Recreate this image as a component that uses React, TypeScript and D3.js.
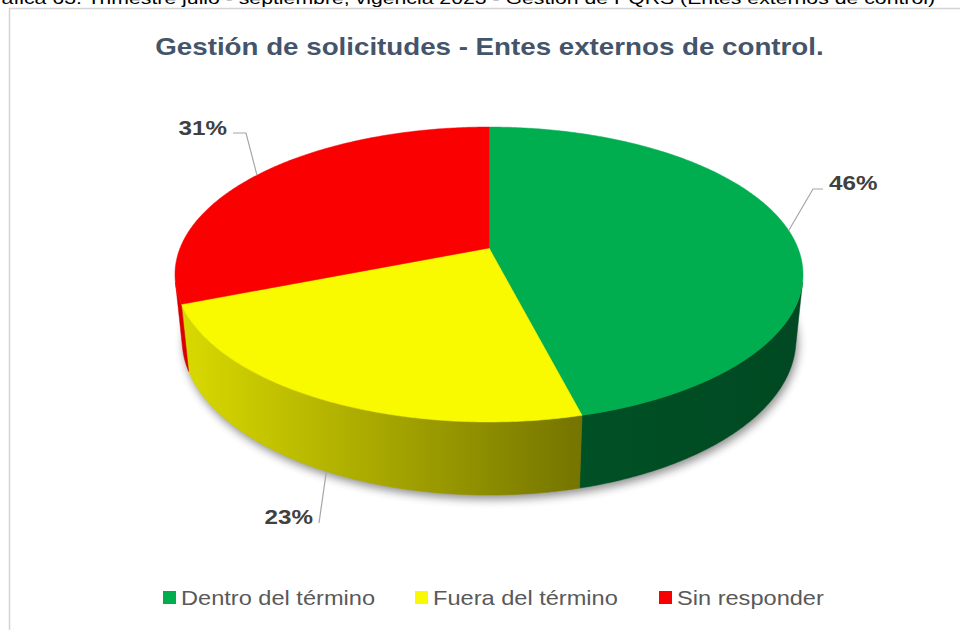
import React from "react";
import * as d3 from "d3";

// chart values
const categories = ["Dentro del término", "Fuera del término", "Sin responder"];
const values = [46, 23, 31];
const colors = ["#00ae50", "#f9f900", "#fa0000"];

const title = "Gestión de solicitudes - Entes externos de control.";
const caption =
  "Gráfica 63. Trimestre julio - septiembre, vigencia 2023 - Gestión de PQRS (Entes externos de control)";

const width = 960;
const height = 630;
const font = "'Liberation Sans', Arial, sans-serif";
const stretch = 1.18; // the source image is a bit wider than tall

// 3d view of the disc (perspective)
const view = { cx: 489, cy: 248, k: 1525, d: 4.937, sin: 0.462, cos: 0.887, depth: 0.239 };

function project(theta: number, r: number, depth: number): [number, number] {
  const u = r * Math.sin(theta);
  const v = -r * Math.cos(theta);
  const y = v * view.sin + depth * view.cos;
  const z = view.d - v * view.cos + depth * view.sin;
  return [view.cx + (view.k * u) / z, view.cy + (view.k * y) / z];
}

// rim range facing the camera
const frontEdge = Math.acos(-1 / (view.d * view.cos));
const front: [number, number] = [frontEdge, 2 * Math.PI - frontEdge];

const arcPts = (a0: number, a1: number, depth: number) => {
  const n = Math.max(2, Math.ceil((a1 - a0) / 0.01));
  return d3.range(n + 1).map((i) => project(a0 + ((a1 - a0) * i) / n, 1, depth));
};

const line = d3.line();

// label placement (layout only)
const labelLayout = [
  { dx: 829, dy: 190, anchor: "start", lead: [[-6, -1], [-16, -1]] },
  { dx: 313, dy: 524, anchor: "end", lead: [[6, -1]] },
  { dx: 227, dy: 135, anchor: "end", lead: [[6, -2], [19, -2]] },
];
const legendX = [163, 415, 659];

function shade(c: string, f: number) {
  const r = d3.rgb(c);
  return d3.rgb(r.r * f, r.g * f, r.b * f).formatHex();
}

function Text(props: any) {
  const { x, y, children, ...rest } = props;
  return (
    <text transform={`translate(${x},${y}) scale(${stretch},1)`} fontFamily={font} {...rest}>
      {children}
    </text>
  );
}

export default function App() {
  const slices = d3.pie<number>().sort(null).value((d) => d)(values);
  const total = d3.sum(values);
  const pct = d3.format(".0%");
  const center = project(0, 0, 0);

  const shadowPath = line(arcPts(0, 2 * Math.PI, view.depth))! + "Z";

  return (
    <div style={{ position: "absolute", left: 0, top: 0 }}>
      <svg width={width} height={height} style={{ display: "block", background: "#fff" }}>
        <defs>
          <filter id="blur" x="-10%" y="-10%" width="120%" height="130%">
            <feGaussianBlur stdDeviation="5" />
          </filter>
          {colors.map((c, i) => (
            <linearGradient
              key={i}
              id={`side${i}`}
              gradientUnits="userSpaceOnUse"
              x1={175}
              x2={803}
              y1={0}
              y2={0}
            >
              <stop offset="0" stopColor={shade(c, 0.88)} />
              <stop offset="0.656" stopColor={shade(c, 0.46)} />
              <stop offset="1" stopColor={shade(c, 0.42)} />
            </linearGradient>
          ))}
        </defs>

        <Text x={-22} y={4} fontSize={17} fill="#000" textLength={957 / stretch} lengthAdjust="spacingAndGlyphs">
          {caption}
        </Text>
        <rect x={9.5} y={8.5} width={1000} height={1000} fill="none" stroke="#d4d4d4" strokeWidth={1.5} />

        <Text x={489.5} y={55} fontSize={23.5} fontWeight="bold" fill="#44546a" textAnchor="middle">
          {title}
        </Text>

        <path d={shadowPath} fill="#000" opacity={0.45} transform="translate(2,4)" filter="url(#blur)" />

        {slices.map((s, i) => {
          const a0 = Math.max(s.startAngle, front[0]);
          const a1 = Math.min(s.endAngle, front[1]);
          if (a1 <= a0) return null;
          const top = arcPts(a0, a1, 0);
          const bottom = arcPts(a0, a1, view.depth).reverse();
          return (
            <path
              key={`side${i}`}
              d={line([...top, ...bottom])! + "Z"}
              fill={`url(#side${i})`}
              stroke={`url(#side${i})`}
              strokeWidth={0.5}
            />
          );
        })}

        {slices.map((s, i) => (
          <path
            key={`top${i}`}
            d={line([center, ...arcPts(s.startAngle, s.endAngle, 0)])! + "Z"}
            fill={colors[i]}
            stroke={colors[i]}
            strokeWidth={0.5}
          />
        ))}

        {slices.map((s, i) => {
          const mid = (s.startAngle + s.endAngle) / 2;
          const anchorPt = project(mid, 1, Math.cos(mid) < 0 ? view.depth : 0);
          const lay = labelLayout[i];
          const pts = lay.lead.map(([dx, dy]) => [lay.dx + dx, lay.dy + dy] as [number, number]);
          return (
            <g key={`lab${i}`}>
              <path d={line([...pts, anchorPt])!} fill="none" stroke="#a6a6a6" strokeWidth={1.2} />
              <Text x={lay.dx} y={lay.dy} fontSize={20.5} fontWeight="bold" fill="#404040" textAnchor={lay.anchor}>
                {pct(s.data / total)}
              </Text>
            </g>
          );
        })}

        {categories.map((c, i) => (
          <g key={`leg${i}`}>
            <rect x={legendX[i]} y={591} width={13} height={13} fill={colors[i]} />
            <Text x={legendX[i] + 18} y={605} fontSize={20} fill="#595959">
              {c}
            </Text>
          </g>
        ))}
      </svg>
    </div>
  );
}
